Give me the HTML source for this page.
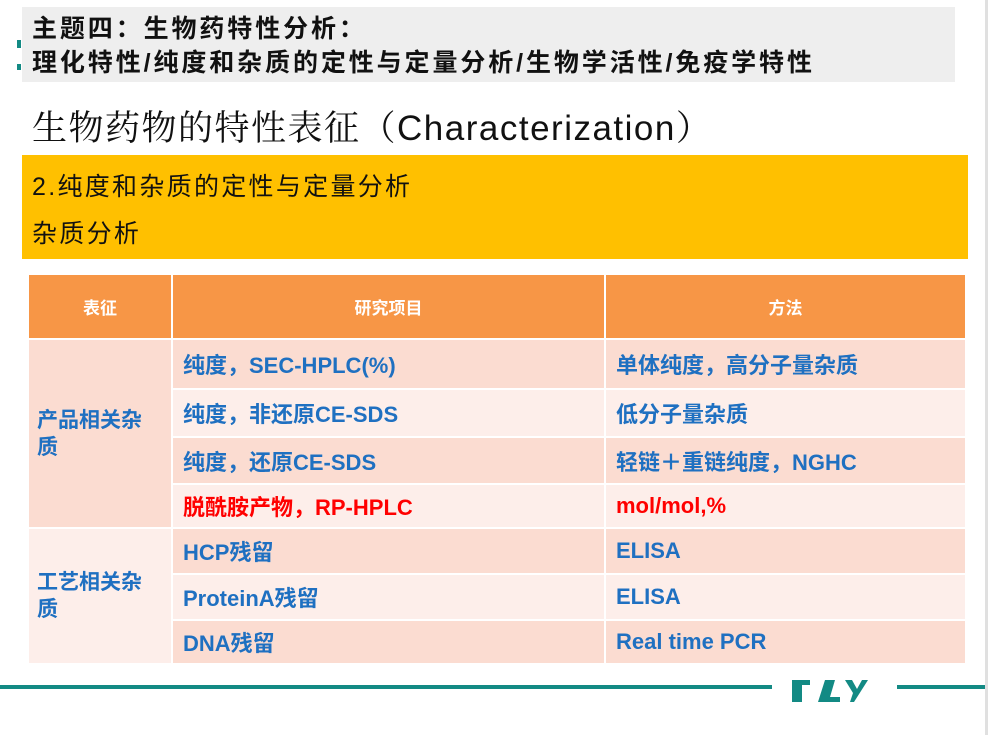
<!DOCTYPE html>
<html><head><meta charset="utf-8"><style>
*{margin:0;padding:0;box-sizing:border-box}
body{width:988px;height:735px;background:#fff;position:relative;overflow:hidden;font-family:"Liberation Sans","Noto Sans CJK SC",sans-serif}
.a{position:absolute}
.hd{background:#F79646;color:#fff;font-weight:bold;font-size:17px;display:flex;align-items:center;justify-content:center}
.c{color:#1F70C1;font-weight:bold;font-size:22px;display:flex;align-items:center;padding-left:10px}
.d{background:#FBDCD1}.l{background:#FDEEEA}
.r{color:#FF0000}
</style></head><body>
<div class="a" style="left:22px;top:7px;width:933px;height:75px;background:#EEEEEE"></div>
<div class="a" style="left:17px;top:40px;width:4px;height:8px;background:#138A84"></div>
<div class="a" style="left:17px;top:64px;width:4px;height:6px;background:#138A84"></div>
<div class="a" style="left:32px;top:12px;font-size:25px;letter-spacing:2.9px;font-weight:bold;line-height:34px;color:#111">主题四：生物药特性分析：<br>理化特性/纯度和杂质的定性与定量分析/生物学活性/免疫学特性</div>
<div class="a" style="left:32px;top:104px;font-size:35px;letter-spacing:1.5px;line-height:44px;color:#111;font-family:'Noto Serif CJK SC','Liberation Serif',serif">生物药物的特性表征（<span style="font-family:'Liberation Sans',sans-serif">Characterization</span>）</div>
<div class="a" style="left:22px;top:155px;width:946px;height:104px;background:#FFC000"></div>
<div class="a" style="left:32px;top:171px;font-size:25px;letter-spacing:2.3px;color:#111;line-height:32px">2.纯度和杂质的定性与定量分析</div>
<div class="a" style="left:32px;top:218px;font-size:25px;letter-spacing:2.3px;color:#111;line-height:32px">杂质分析</div>

<div class="a hd" style="left:29px;top:275px;width:142px;height:63px">表征</div>
<div class="a hd" style="left:173px;top:275px;width:431px;height:63px">研究项目</div>
<div class="a hd" style="left:606px;top:275px;width:359px;height:63px">方法</div>

<div class="a c d" style="left:29px;top:340px;width:142px;height:187px;line-height:27px;padding-left:8px;font-size:21px">产品相关杂<br>质</div>
<div class="a c l" style="left:29px;top:529px;width:142px;height:134px;line-height:27px;padding-left:8px;font-size:21px">工艺相关杂<br>质</div>

<div class="a c d" style="left:173px;top:340px;width:431px;height:48px">纯度，SEC-HPLC(%)</div>
<div class="a c d" style="left:606px;top:340px;width:359px;height:48px">单体纯度，高分子量杂质</div>
<div class="a c l" style="left:173px;top:390px;width:431px;height:46px">纯度，非还原CE-SDS</div>
<div class="a c l" style="left:606px;top:390px;width:359px;height:46px">低分子量杂质</div>
<div class="a c d" style="left:173px;top:438px;width:431px;height:45px">纯度，还原CE-SDS</div>
<div class="a c d" style="left:606px;top:438px;width:359px;height:45px">轻链＋重链纯度，NGHC</div>
<div class="a c l r" style="left:173px;top:485px;width:431px;height:42px">脱酰胺产物，RP-HPLC</div>
<div class="a c l r" style="left:606px;top:485px;width:359px;height:42px">mol/mol,%</div>
<div class="a c d" style="left:173px;top:529px;width:431px;height:44px">HCP残留</div>
<div class="a c d" style="left:606px;top:529px;width:359px;height:44px">ELISA</div>
<div class="a c l" style="left:173px;top:575px;width:431px;height:44px">ProteinA残留</div>
<div class="a c l" style="left:606px;top:575px;width:359px;height:44px">ELISA</div>
<div class="a c d" style="left:173px;top:621px;width:431px;height:42px">DNA残留</div>
<div class="a c d" style="left:606px;top:621px;width:359px;height:42px">Real time PCR</div>

<div class="a" style="left:0;top:685px;width:772px;height:4px;background:#138A84"></div>
<div class="a" style="left:897px;top:685px;width:91px;height:4px;background:#138A84"></div>
<svg class="a" style="left:790px;top:675px" width="90" height="30">
<polygon points="2,5 20,5 20,10 12,10 12,27 2,27" fill="#138A84"/>
<polygon points="35,5 45,5 40,22 50,22 50,27 28,27" fill="#138A84"/>
<polygon points="55,5 62,5 67,14 72,5 78,5 64,27 60,27 63,18" fill="#138A84"/>
</svg>
<div class="a" style="left:985px;top:0;width:3px;height:735px;background:#E0E0E0"></div>
</body></html>
